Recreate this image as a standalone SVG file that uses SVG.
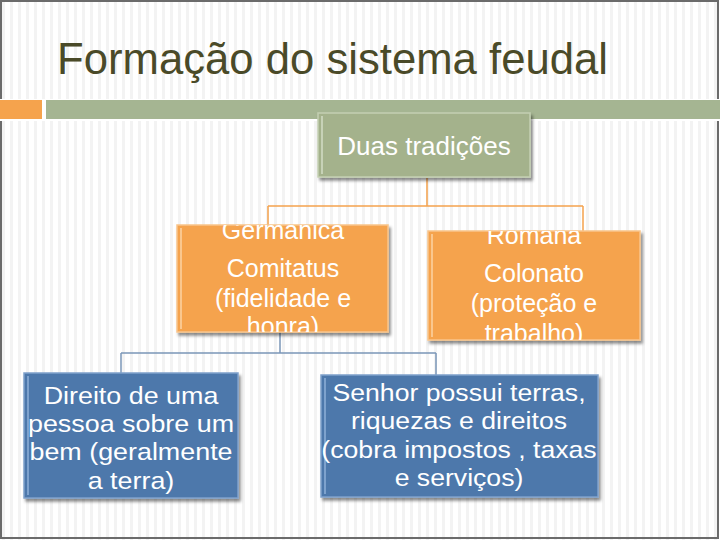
<svg xmlns="http://www.w3.org/2000/svg" width="720" height="540" viewBox="0 0 720 540">
<defs>
<pattern id="stripes" x="0" y="0" width="8" height="540" patternUnits="userSpaceOnUse">
<rect x="0" y="0" width="8" height="540" fill="#ffffff"/>
<rect x="2" y="0" width="3" height="540" fill="#f3f3f3"/>
</pattern>
<filter id="shadow" x="-10%" y="-10%" width="130%" height="130%">
<feDropShadow dx="2" dy="3" stdDeviation="1.5" flood-color="#000" flood-opacity="0.45"/>
</filter>
<clipPath id="cG"><rect x="177" y="225" width="211" height="107"/></clipPath>
<clipPath id="cR"><rect x="428" y="231" width="212" height="109"/></clipPath>
</defs>
<style>
.t{font-family:"Liberation Sans",Arial,sans-serif;fill:#ffffff;text-anchor:middle;font-size:25px}
.tt{font-family:"Liberation Sans",Arial,sans-serif;fill:#ffffff;text-anchor:middle;font-size:26px}
.bt{fill:#ffffff;font-family:"Liberation Sans",Arial,sans-serif;text-anchor:middle;font-size:24px}
.green{fill:#a4b28c;stroke:#c4cfb3;stroke-width:1.5}
.orange{fill:#f5a34d;stroke:#f9c58b;stroke-width:1.5}
.blue{fill:#4d78ab;stroke:#7fa1cb;stroke-width:1.5}
.conn-o{stroke:#f5a34d;stroke-width:1.5;fill:none}
.conn-b{stroke:#7b96b8;stroke-width:1.5;fill:none}
</style>
<rect x="0" y="0" width="720" height="540" fill="url(#stripes)"/>
<rect x="1" y="1" width="717" height="537" fill="none" stroke="#6b6b6b" stroke-width="2"/>
<rect x="0" y="99" width="720" height="22" fill="#ffffff"/>
<rect x="0" y="100" width="42" height="19" fill="#f5a34d"/>
<rect x="46" y="100" width="674" height="19" fill="#a5b592"/>
<text x="57" y="74" font-family="'Liberation Sans',Arial,sans-serif" font-size="44" fill="#4a4a28" textLength="551" lengthAdjust="spacingAndGlyphs">Formação do sistema feudal</text>
<g id="connectors">
<path class="conn-o" d="M427 178 V206 M268 206 H583 M268 206 V225 M583 206 V231"/>
<path class="conn-b" d="M280 332 V353 M121 353 H436 M121 353 V373 M436 353 V375"/>
</g>
<g id="duas">
<rect class="green" x="318" y="113" width="212" height="64" filter="url(#shadow)"/>
<line x1="322" y1="116" x2="322" y2="174" stroke="#d3dcc6" stroke-width="1.5"/>
<text class="tt" x="424" y="155">Duas tradições</text>
</g>
<g id="germanica">
<rect class="orange" x="177" y="225" width="211" height="107" filter="url(#shadow)"/>
<line x1="181" y1="228" x2="181" y2="329" stroke="#fbd3a5" stroke-width="1.5"/>
<g clip-path="url(#cG)">
<text class="t" x="283" y="239">Germânica</text>
<text class="t" x="283" y="277">Comitatus</text>
<text class="t" x="283" y="307">(fidelidade e</text>
<text class="t" x="283" y="335">honra)</text>
</g>
</g>
<g id="romana">
<rect class="orange" x="428" y="231" width="212" height="109" filter="url(#shadow)"/>
<line x1="432" y1="234" x2="432" y2="337" stroke="#fbd3a5" stroke-width="1.5"/>
<g clip-path="url(#cR)">
<text class="t" x="534" y="244">Romana</text>
<text class="t" x="534" y="282">Colonato</text>
<text class="t" x="534" y="312">(proteção e</text>
<text class="t" x="534" y="342">trabalho)</text>
</g>
</g>
<g id="direito">
<rect class="blue" x="24" y="373" width="214" height="125" filter="url(#shadow)"/>
<line x1="28" y1="376" x2="28" y2="495" stroke="#8fb0d8" stroke-width="1.5"/>
<g transform="translate(131,0) scale(1.12,1)">
<text class="bt" x="0" y="404">Direito de uma</text>
<text class="bt" x="0" y="432">pessoa sobre um</text>
<text class="bt" x="0" y="460">bem (geralmente</text>
<text class="bt" x="0" y="489">a terra)</text>
</g>
</g>
<g id="senhor">
<rect class="blue" x="321" y="375" width="277" height="122" filter="url(#shadow)"/>
<line x1="325" y1="378" x2="325" y2="494" stroke="#8fb0d8" stroke-width="1.5"/>
<g transform="translate(459,0) scale(1.11,1)">
<text class="bt" x="0" y="401">Senhor possui terras,</text>
<text class="bt" x="0" y="429">riquezas e direitos</text>
<text class="bt" x="0" y="458">(cobra impostos , taxas</text>
<text class="bt" x="0" y="486">e serviços)</text>
</g>
</g>
</svg>
